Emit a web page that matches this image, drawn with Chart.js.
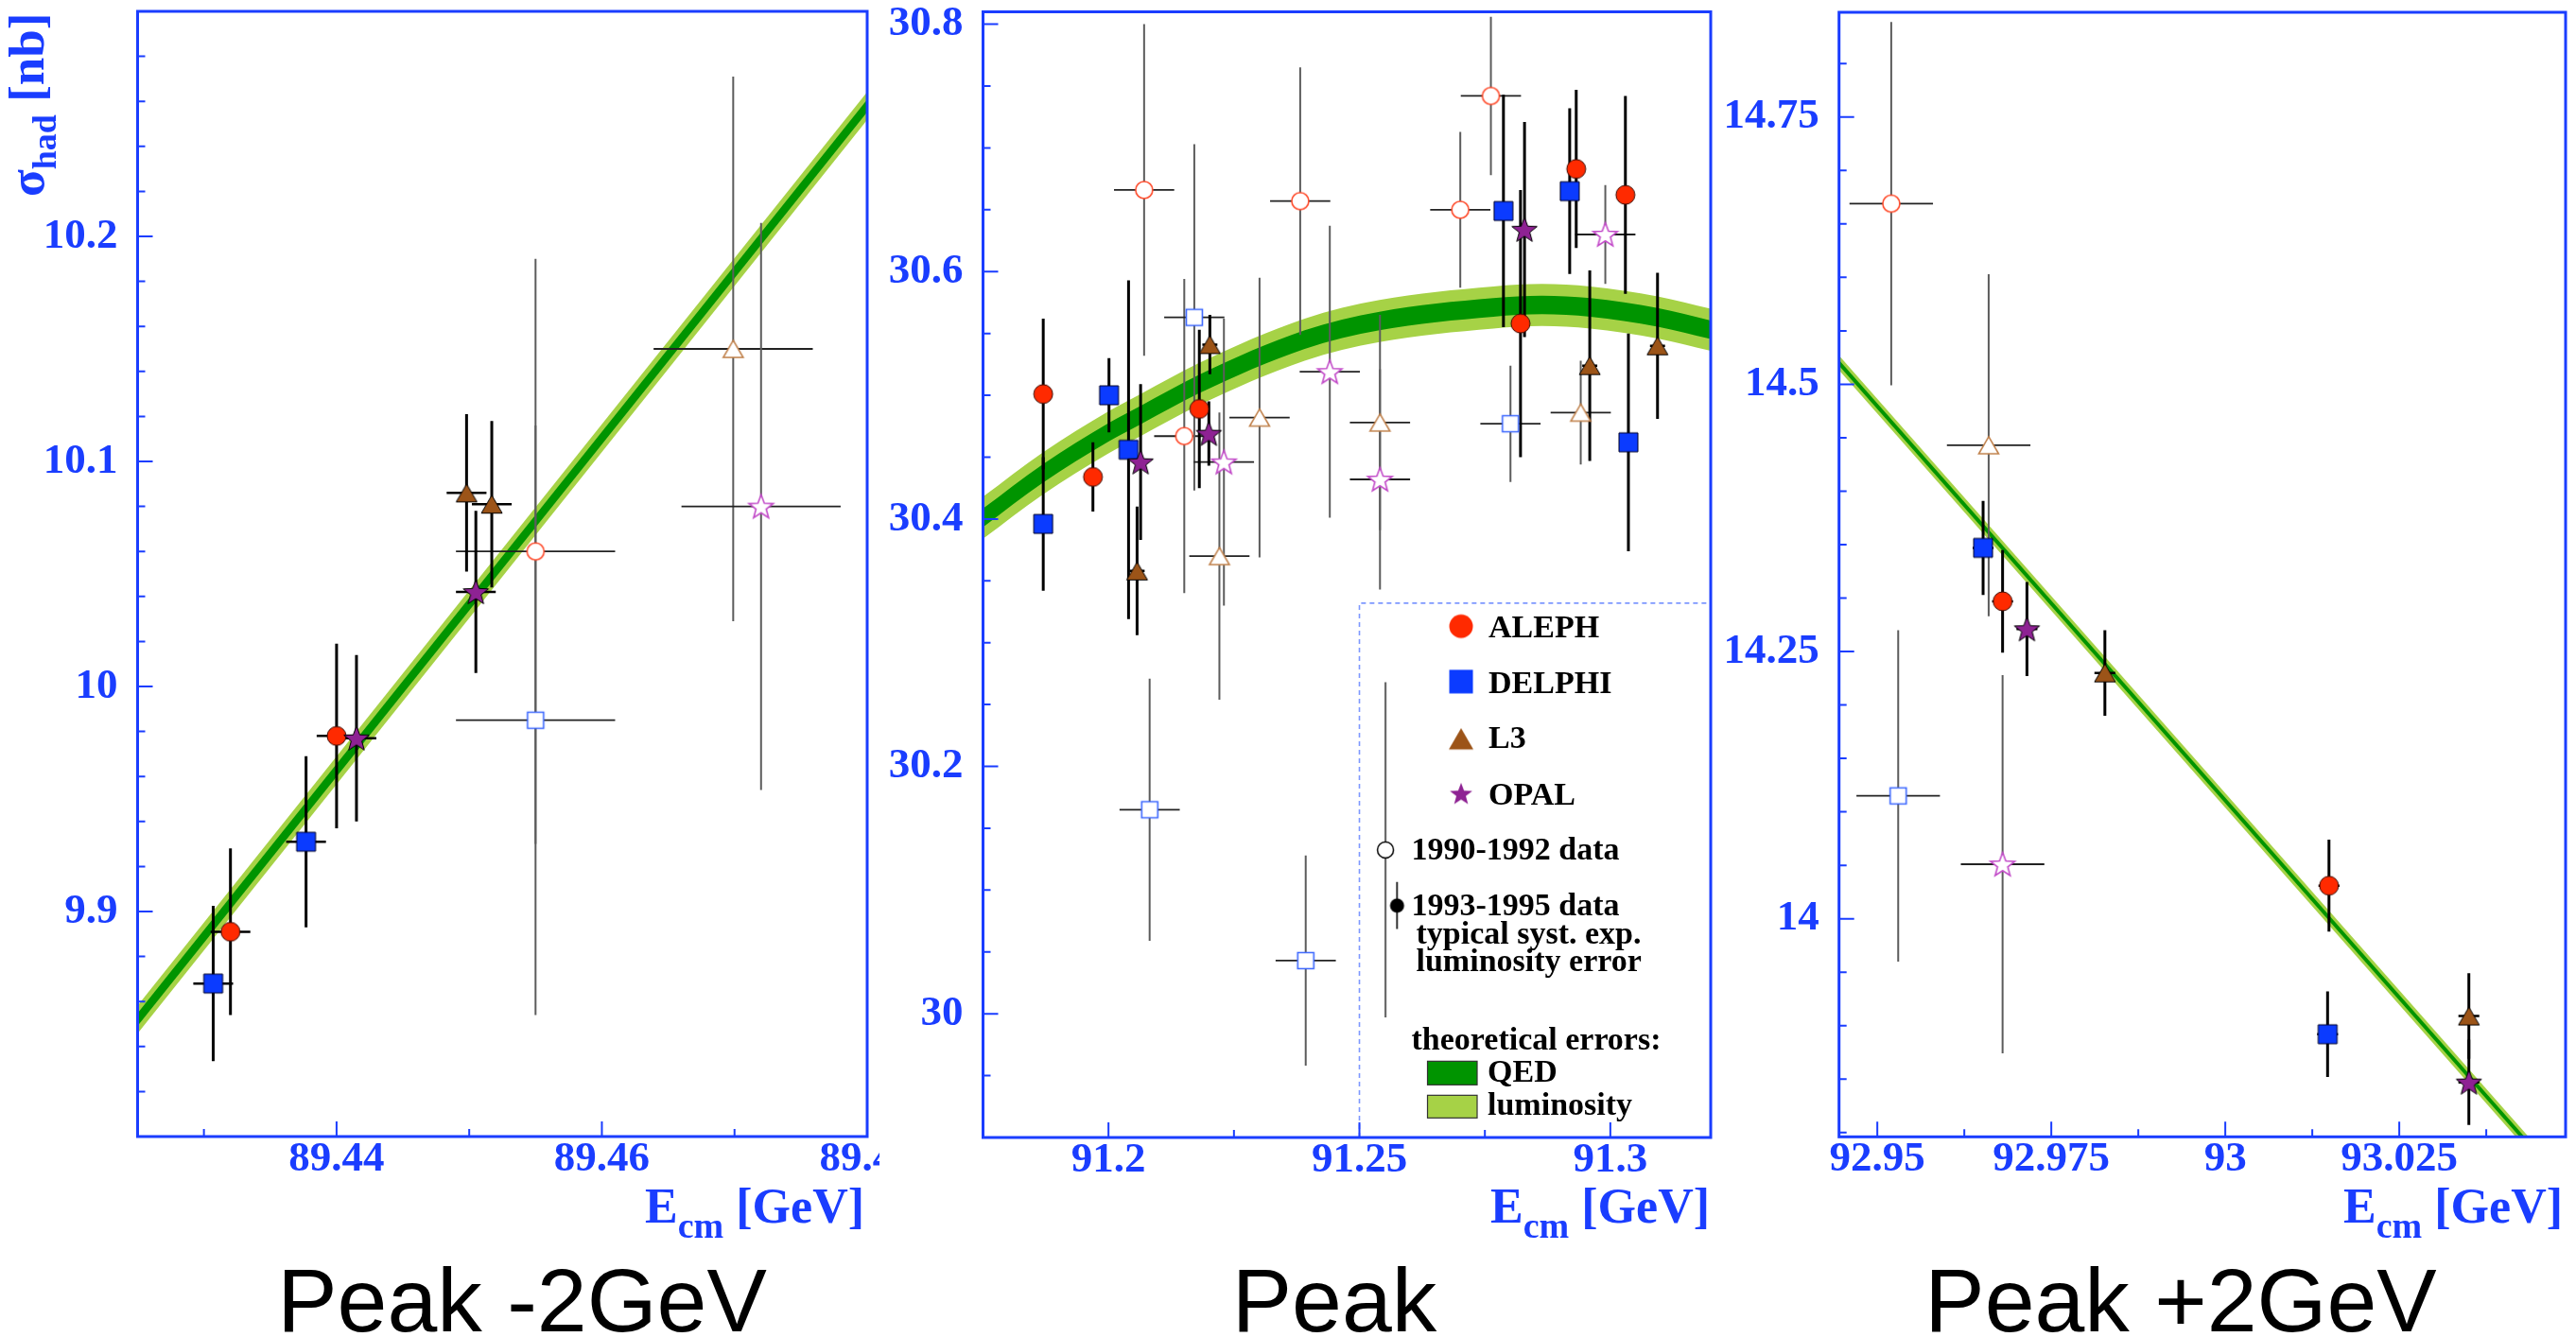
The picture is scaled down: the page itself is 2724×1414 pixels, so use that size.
<!DOCTYPE html>
<html><head><meta charset="utf-8">
<script src="https://cdn.jsdelivr.net/npm/chart.js@4.4.1/dist/chart.umd.min.js"></script>
<style>
html,body{margin:0;padding:0;background:#fff;}
#page{position:relative;width:2724px;height:1414px;overflow:hidden;background:#fff;}
canvas{position:absolute;top:0;}
.axt{position:absolute;font-family:"Liberation Serif","Times New Roman",serif;font-weight:bold;color:#1a3dff;white-space:nowrap;line-height:1;}
.cap{position:absolute;font-family:"Liberation Sans",Arial,sans-serif;font-size:95px;line-height:1;color:#000;white-space:nowrap;text-align:center;width:800px;top:1328px;}
</style></head>
<body><div id="page">
<canvas id="c1" width="930" height="1262" style="left:0px"></canvas>
<canvas id="c2" width="888" height="1262" style="left:932px"></canvas>
<canvas id="c3" width="904" height="1262" style="left:1820px"></canvas>
<div class="axt" style="left:2px;top:208px;font-size:53px;transform:rotate(-90deg);transform-origin:0 0;">σ<span style="font-size:36px;position:relative;top:13px">had</span> [nb]</div>
<div class="axt" style="right:1810px;top:1250px;font-size:52px;">E<span style="font-size:38px;position:relative;top:16px">cm</span> [GeV]</div>
<div class="axt" style="right:916px;top:1250px;font-size:52px;">E<span style="font-size:38px;position:relative;top:16px">cm</span> [GeV]</div>
<div class="axt" style="right:14px;top:1250px;font-size:52px;">E<span style="font-size:38px;position:relative;top:16px">cm</span> [GeV]</div>
<div class="cap" style="left:152px;">Peak -2GeV</div>
<div class="cap" style="left:1011px;">Peak</div>
<div class="cap" style="left:1906px;">Peak +2GeV</div>
</div>
<script>
// ================= DATA =================
// Panel 1 : Peak -2GeV
const P1_X_TICKS = [89.44, 89.46, 89.48];
const P1_X_LABELS = ['89.44', '89.46', '89.48'];
const P1_Y_TICKS = [9.9, 10, 10.1, 10.2];
const P1_Y_LABELS = ['9.9', '10', '10.1', '10.2'];
// [E_cm (GeV), sigma_had (nb), error (nb)]
const P1_ALEPH_93 = [[89.4320, 9.891, 0.037], [89.4400, 9.978, 0.041]];
const P1_DELPHI_93 = [[89.4307, 9.868, 0.0345], [89.4377, 9.931, 0.038]];
const P1_L3_93 = [[89.4498, 10.086, 0.035], [89.4517, 10.081, 0.037]];
const P1_OPAL_93 = [[89.4415, 9.977, 0.037], [89.4505, 10.042, 0.036]];
const P1_ALEPH_90 = [[89.4550, 10.060, 0.130]];
const P1_DELPHI_90 = [[89.4550, 9.985, 0.131]];
const P1_L3_90 = [[89.4699, 10.150, 0.121]];
const P1_OPAL_90 = [[89.4720, 10.080, 0.126]];
const P1_THEORY_X = [89.425, 89.48];
const P1_THEORY_Y = [9.852, 10.258];
const P1_QED_HALF = 0.0028;
const P1_LUM_HALF = 0.0062;

// Panel 2 : Peak
const P2_X_TICKS = [91.2, 91.25, 91.3];
const P2_X_LABELS = ['91.2', '91.25', '91.3'];
const P2_Y_TICKS = [30, 30.2, 30.4, 30.6, 30.8];
const P2_Y_LABELS = ['30', '30.2', '30.4', '30.6', '30.8'];
const P2_ALEPH_93 = [[91.1870, 30.501, 0.061], [91.1969, 30.434, 0.028], [91.2181, 30.489, 0.064], [91.2821, 30.558, 0.108], [91.2932, 30.683, 0.064], [91.3030, 30.662, 0.080]];
const P2_DELPHI_93 = [[91.1870, 30.396, 0.054], [91.2001, 30.500, 0.030], [91.2040, 30.456, 0.137], [91.2787, 30.649, 0.094], [91.2919, 30.665, 0.067], [91.3036, 30.462, 0.088]];
const P2_L3_93 = [[91.2057, 30.358, 0.052], [91.2202, 30.541, 0.024], [91.2959, 30.524, 0.077], [91.3094, 30.540, 0.059]];
const P2_OPAL_93 = [[91.2064, 30.446, 0.063], [91.2200, 30.469, 0.026], [91.2829, 30.634, 0.087]];
const P2_ALEPH_90 = [[91.2071, 30.666, 0.134], [91.2151, 30.467, 0.127], [91.2382, 30.657, 0.108], [91.2701, 30.650, 0.063], [91.2762, 30.742, 0.064]];
const P2_DELPHI_90 = [[91.2082, 30.165, 0.106], [91.2171, 30.563, 0.140], [91.2393, 30.043, 0.085], [91.2801, 30.477, 0.047]];
const P2_L3_90 = [[91.2221, 30.370, 0.116], [91.2301, 30.482, 0.113], [91.2541, 30.478, 0.087], [91.2941, 30.486, 0.042]];
const P2_OPAL_90 = [[91.2230, 30.446, 0.116], [91.2441, 30.519, 0.118], [91.2541, 30.432, 0.089], [91.2990, 30.630, 0.040]];
const P2_SYS_90 = [[91.2552, 30.1325, 0.1355]];
const P2_SYS_93 = [[91.2575, 30.0875, 0.019]];
const P2_THEORY_X = [91.175, 91.187, 91.200, 91.2064, 91.218, 91.2391, 91.254, 91.2767, 91.2864, 91.296, 91.3094, 91.32];
const P2_THEORY_Y = [30.401, 30.437, 30.470, 30.484, 30.509, 30.545, 30.560, 30.571, 30.573, 30.571, 30.563, 30.553];
const P2_QED_HALF = 0.0075;
const P2_LUM_HALF = 0.0170;

// Panel 3 : Peak +2GeV
const P3_X_TICKS = [92.95, 92.975, 93, 93.025];
const P3_X_LABELS = ['92.95', '92.975', '93', '93.025'];
const P3_Y_TICKS = [14, 14.25, 14.5, 14.75];
const P3_Y_LABELS = ['14', '14.25', '14.5', '14.75'];
const P3_ALEPH_93 = [[92.9680, 14.297, 0.048], [93.0149, 14.031, 0.043]];
const P3_DELPHI_93 = [[92.9652, 14.347, 0.044], [93.0147, 13.892, 0.040]];
const P3_L3_93 = [[92.9827, 14.230, 0.040], [93.0350, 13.909, 0.040]];
const P3_OPAL_93 = [[92.9715, 14.271, 0.044], [93.0350, 13.847, 0.040]];
const P3_ALEPH_90 = [[92.9520, 14.669, 0.170]];
const P3_DELPHI_90 = [[92.9530, 14.115, 0.155]];
const P3_L3_90 = [[92.9660, 14.443, 0.160]];
const P3_OPAL_90 = [[92.9680, 14.051, 0.177]];
const P3_THEORY_X = [92.9445, 93.0489];
const P3_THEORY_Y = [14.520, 13.750];
const P3_QED_HALF = 0.0026;
const P3_LUM_HALF = 0.0068;

// energy errors (GeV)
const EX_93 = 0.0015;
const EX_90 = 0.006;

// ================= STYLE =================
const SERIF = '"Liberation Serif", "Times New Roman", serif';
const AXIS_BLUE = '#1a3dff';
const COL = {
  aleph: '#ff2a00', delphi: '#0b3bff', l3: '#9c5418', opal: '#8e2293',
  alephO: '#ff4a2a', delphiO: '#3a66ff', l3O: '#c0804a', opalO: '#c24ac8',
  qed: '#009400', lum: '#a6d246'
};

function marker(shape, fill, stroke, lw, size) {
  const pad = 3;
  let S = Math.ceil(size + 2 * pad); if (S % 2) S++;
  const c = document.createElement('canvas'); c.width = S; c.height = S;
  const g = c.getContext('2d'); const cx = S / 2, cy = S / 2;
  g.beginPath();
  if (shape === 'circle') g.arc(cx, cy, size / 2, 0, 2 * Math.PI);
  else if (shape === 'square') g.rect(cx - size / 2, cy - size / 2, size, size);
  else if (shape === 'triangle') {
    const h = size * 0.86;
    g.moveTo(cx, cy - h / 2); g.lineTo(cx + size / 2, cy + h / 2); g.lineTo(cx - size / 2, cy + h / 2); g.closePath();
  } else if (shape === 'star') {
    const R = size / 2, r = R * 0.42;
    for (let i = 0; i < 10; i++) {
      const a = -Math.PI / 2 + i * Math.PI / 5, rr = (i % 2) ? r : R;
      const px = cx + rr * Math.cos(a), py = cy + R * 0.08 + rr * Math.sin(a);
      if (i === 0) g.moveTo(px, py); else g.lineTo(px, py);
    }
    g.closePath();
  }
  if (fill) { g.fillStyle = fill; g.fill(); }
  if (stroke) { g.lineWidth = lw; g.strokeStyle = stroke; g.lineJoin = 'miter'; g.stroke(); }
  return c;
}

const MK = {
  aleph: marker('circle', COL.aleph, '#3a0a00', 1, 20),
  delphi: marker('square', COL.delphi, '#000022', 1, 20),
  l3: marker('triangle', COL.l3, '#000', 1, 22),
  opal: marker('star', COL.opal, '#000', 1, 28),
  alephO: marker('circle', '#fff', COL.alephO, 1.6, 18),
  delphiO: marker('square', '#fff', COL.delphiO, 1.6, 17),
  l3O: marker('triangle', '#fff', COL.l3O, 1.6, 21),
  opalO: marker('star', '#fff', COL.opalO, 1.6, 27),
  sysO: marker('circle', '#fff', '#000', 1.5, 17),
  sysF: marker('circle', '#000', null, 0, 15),
  legA: marker('circle', COL.aleph, null, 0, 25),
  legD: marker('square', COL.delphi, null, 0, 25),
  legL: marker('triangle', COL.l3, null, 0, 26),
  legO: marker('star', COL.opal, null, 0, 25)
};

const ERR = {
  filled: { vc: '#000', vw: 3, hc: '#000', hw: 2.5 },
  open: { vc: '#5c5c5c', vw: 2, hc: '#222', hw: 1.8 },
  sysO: { vc: '#6a6a6a', vw: 2.2, hc: '#000', hw: 0 },
  sysF: { vc: '#333', vw: 2, hc: '#000', hw: 0 }
};

// ================= PLUGINS =================
const errPlugin = {
  id: 'errbars',
  beforeDatasetsDraw(chart) { chart.$errDone = false; },
  beforeDatasetDraw(chart, args) {
    if (chart.$errDone) return;
    const ds0 = chart.data.datasets[args.index];
    if (!ds0.errStyle) return;
    chart.$errDone = true;
    const { ctx, chartArea: a, scales: { x, y } } = chart;
    ctx.save();
    ctx.beginPath(); ctx.rect(a.left, a.top, a.right - a.left, a.bottom - a.top); ctx.clip();
    ctx.lineCap = 'butt';
    const sets = chart.data.datasets.filter(d => d.errStyle);
    for (let k = sets.length - 1; k >= 0; k--) {
      const d = sets[k], st = ERR[d.errStyle];
      d.data.forEach(p => {
        const px = x.getPixelForValue(p.x), py = y.getPixelForValue(p.y);
        if (st.vw > 0 && p.ey) {
          ctx.strokeStyle = st.vc; ctx.lineWidth = st.vw;
          ctx.beginPath();
          ctx.moveTo(px, y.getPixelForValue(p.y - p.ey));
          ctx.lineTo(px, y.getPixelForValue(p.y + p.ey));
          ctx.stroke();
        }
        if (st.hw > 0 && p.ex) {
          ctx.strokeStyle = st.hc; ctx.lineWidth = st.hw;
          ctx.beginPath();
          ctx.moveTo(x.getPixelForValue(p.x - p.ex), py);
          ctx.lineTo(x.getPixelForValue(p.x + p.ex), py);
          ctx.stroke();
        }
      });
    }
    ctx.restore();
  }
};

const framePlugin = {
  id: 'frame',
  afterDraw(chart, args, opts) {
    const { ctx, chartArea: a, scales: { x, y } } = chart;
    ctx.save();
    ctx.strokeStyle = AXIS_BLUE;
    ctx.lineWidth = 2;
    const eachTick = (sc, minor, major, fn) => {
      const i0 = Math.ceil(sc.min / minor - 1e-6), i1 = Math.floor(sc.max / minor + 1e-6);
      for (let i = i0; i <= i1; i++) {
        const v = i * minor, q = v / major;
        fn(sc.getPixelForValue(v), Math.abs(q - Math.round(q)) < 1e-6);
      }
    };
    ctx.beginPath();
    eachTick(x, opts.xMinor, opts.xMajor, (p, M) => { ctx.moveTo(p, a.bottom); ctx.lineTo(p, a.bottom - (M ? 16 : 8)); });
    eachTick(y, opts.yMinor, opts.yMajor, (p, M) => { ctx.moveTo(a.left, p); ctx.lineTo(a.left + (M ? 16 : 8), p); });
    ctx.stroke();
    ctx.lineWidth = 3;
    ctx.strokeRect(a.left, a.top, a.right - a.left, a.bottom - a.top);
    ctx.restore();
  }
};

const LEGEND_BOX_X = 91.25;   // GeV, left edge of legend box
const LEGEND_BOX_Y = 30.332;  // nb, top edge of legend box
const legendPlugin = {
  id: 'zlegend',
  afterDatasetsDraw(chart) {
    const { ctx, chartArea: a, scales: { x, y } } = chart;
    const L = x.getPixelForValue(LEGEND_BOX_X), T = y.getPixelForValue(LEGEND_BOX_Y);
    ctx.save();
    ctx.setLineDash([5, 4]); ctx.strokeStyle = '#7d98ff'; ctx.lineWidth = 1.6;
    ctx.beginPath(); ctx.moveTo(L, a.bottom); ctx.lineTo(L, T); ctx.lineTo(a.right, T); ctx.stroke();
    ctx.setLineDash([]);
    const put = (img, cx, cy) => ctx.drawImage(img, cx - img.width / 2, cy - img.height / 2);
    put(MK.legA, L + 107.5, T + 24.5);
    put(MK.legD, L + 107.5, T + 83);
    put(MK.legL, L + 107.5, T + 143.5);
    put(MK.legO, L + 107.5, T + 201.5);
    ctx.fillStyle = '#000';
    ctx.textBaseline = 'alphabetic'; ctx.textAlign = 'left';
    ctx.font = 'bold 34px ' + SERIF;
    ctx.fillText('ALEPH', L + 136.5, T + 36);
    ctx.fillText('DELPHI', L + 136.5, T + 95.5);
    ctx.fillText('L3', L + 136.5, T + 153.5);
    ctx.fillText('OPAL', L + 136.5, T + 213.5);
    ctx.fillText('1990-1992 data', L + 55, T + 271.5);
    ctx.fillText('1993-1995 data', L + 55, T + 330.5);
    ctx.fillText('typical syst. exp.', L + 60, T + 360);
    ctx.fillText('luminosity error', L + 60, T + 389.5);
    ctx.fillText('theoretical errors:', L + 55, T + 472.5);
    ctx.fillText('QED', L + 135.5, T + 506.5);
    ctx.fillText('luminosity', L + 135.5, T + 541.5);
    ctx.lineWidth = 1.2; ctx.strokeStyle = '#333';
    ctx.fillStyle = COL.qed; ctx.fillRect(L + 72, T + 484.5, 52.5, 25); ctx.strokeRect(L + 72, T + 484.5, 52.5, 25);
    ctx.fillStyle = COL.lum; ctx.fillRect(L + 72, T + 520.5, 52.5, 24); ctx.strokeRect(L + 72, T + 520.5, 52.5, 24);
    ctx.restore();
  }
};

// ================= BUILDERS =================
function axis(min, max, ticks, labels, size, isX, pad) {
  return {
    type: 'linear', min, max, position: isX ? 'bottom' : 'left',
    grid: { display: false, drawTicks: false }, border: { display: false },
    ticks: {
      color: AXIS_BLUE, font: { family: SERIF, size: 45, weight: 'bold', lineHeight: 1 },
      padding: pad, autoSkip: false, maxRotation: 0, minRotation: 0,
      callback: (v) => { const i = ticks.findIndex(t => Math.abs(t - v) < 1e-9); return i >= 0 ? labels[i] : ''; }
    },
    afterBuildTicks: (s) => { s.ticks = ticks.map(v => ({ value: v })); },
    afterFit: (s) => {
      if (isX) { s.height = size; s.paddingLeft = 0; s.paddingRight = 0; }
      else { s.width = size; s.paddingTop = 0; s.paddingBottom = 0; }
    }
  };
}

function bandSets(tx, ty, qed, lum, smooth) {
  const mk = (h) => tx.map((xv, i) => ({ x: xv, y: ty[i] + h }));
  const base = { type: 'line', showLine: true, pointRadius: 0, borderWidth: 0, borderColor: 'rgba(0,0,0,0)',
    tension: 0, cubicInterpolationMode: smooth ? 'monotone' : 'default' };
  return [
    Object.assign({}, base, { label: 'lum+', data: mk(lum), fill: false, order: 10 }),
    Object.assign({}, base, { label: 'lum-', data: mk(-lum), fill: 0, backgroundColor: COL.lum, order: 9 }),
    Object.assign({}, base, { label: 'qed+', data: mk(qed), fill: false, order: 8 }),
    Object.assign({}, base, { label: 'qed-', data: mk(-qed), fill: 2, backgroundColor: COL.qed, order: 7 })
  ];
}

function pointSets(list) {
  return list.map(s => ({
    type: 'scatter', label: s.label,
    data: s.data.map(([xv, yv, e]) => ({ x: xv, y: yv, ey: e, ex: s.ex })),
    pointStyle: MK[s.mk], pointRadius: 10, showLine: false, order: 0, errStyle: s.err
  }));
}

function series(a93, d93, l93, o93, a90, d90, l90, o90) {
  return [
    { label: 'OPAL 1993-1995', data: o93, mk: 'opal', err: 'filled', ex: EX_93 },
    { label: 'L3 1993-1995', data: l93, mk: 'l3', err: 'filled', ex: EX_93 },
    { label: 'DELPHI 1993-1995', data: d93, mk: 'delphi', err: 'filled', ex: EX_93 },
    { label: 'ALEPH 1993-1995', data: a93, mk: 'aleph', err: 'filled', ex: EX_93 },
    { label: 'OPAL 1990-1992', data: o90, mk: 'opalO', err: 'open', ex: EX_90 },
    { label: 'L3 1990-1992', data: l90, mk: 'l3O', err: 'open', ex: EX_90 },
    { label: 'DELPHI 1990-1992', data: d90, mk: 'delphiO', err: 'open', ex: EX_90 },
    { label: 'ALEPH 1990-1992', data: a90, mk: 'alephO', err: 'open', ex: EX_90 }
  ];
}

function build(id, cfg) {
  return new Chart(document.getElementById(id), {
    type: 'scatter',
    data: { datasets: bandSets(cfg.tx, cfg.ty, cfg.qed, cfg.lum, cfg.smooth).concat(pointSets(cfg.series)) },
    options: {
      responsive: false, animation: false, events: [], devicePixelRatio: 1,
      layout: { padding: cfg.padding },
      scales: {
        x: axis(cfg.xmin, cfg.xmax, cfg.xt, cfg.xl, cfg.xh, true, 2),
        y: axis(cfg.ymin, cfg.ymax, cfg.yt, cfg.yl, cfg.yw, false, 21)
      },
      plugins: {
        legend: { display: false }, tooltip: { enabled: false },
        frame: cfg.frame
      }
    },
    plugins: [errPlugin, framePlugin].concat(cfg.extra || [])
  });
}

build('c1', {
  tx: P1_THEORY_X, ty: P1_THEORY_Y, qed: P1_QED_HALF, lum: P1_LUM_HALF, smooth: false,
  series: series(P1_ALEPH_93, P1_DELPHI_93, P1_L3_93, P1_OPAL_93, P1_ALEPH_90, P1_DELPHI_90, P1_L3_90, P1_OPAL_90),
  xmin: 89.425, xmax: 89.48, ymin: 9.8, ymax: 10.3,
  xt: P1_X_TICKS, xl: P1_X_LABELS, yt: P1_Y_TICKS, yl: P1_Y_LABELS,
  xh: 60, yw: 145.5, padding: { left: 0, right: 13, top: 12, bottom: 0 },
  frame: { xMinor: 0.01, xMajor: 0.02, yMinor: 0.02, yMajor: 0.1 }
});

const sys = [
  { label: 'typical 1990-1992', data: P2_SYS_90, mk: 'sysO', err: 'sysO', ex: 0 },
  { label: 'typical 1993-1995', data: P2_SYS_93, mk: 'sysF', err: 'sysF', ex: 0 }
];
build('c2', {
  tx: P2_THEORY_X, ty: P2_THEORY_Y, qed: P2_QED_HALF, lum: P2_LUM_HALF, smooth: true,
  series: sys.concat(series(P2_ALEPH_93, P2_DELPHI_93, P2_L3_93, P2_OPAL_93, P2_ALEPH_90, P2_DELPHI_90, P2_L3_90, P2_OPAL_90)),
  xmin: 91.175, xmax: 91.32, ymin: 29.9, ymax: 30.81,
  xt: P2_X_TICKS, xl: P2_X_LABELS, yt: P2_Y_TICKS, yl: P2_Y_LABELS,
  xh: 59, yw: 107.5, padding: { left: 0, right: 9.5, top: 12.5, bottom: 0 },
  frame: { xMinor: 0.025, xMajor: 0.05, yMinor: 0.05, yMajor: 0.2 },
  extra: [legendPlugin]
});

build('c3', {
  tx: P3_THEORY_X, ty: P3_THEORY_Y, qed: P3_QED_HALF, lum: P3_LUM_HALF, smooth: false,
  series: series(P3_ALEPH_93, P3_DELPHI_93, P3_L3_93, P3_OPAL_93, P3_ALEPH_90, P3_DELPHI_90, P3_L3_90, P3_OPAL_90),
  xmin: 92.9445, xmax: 93.0489, ymin: 13.796, ymax: 14.848,
  xt: P3_X_TICKS, xl: P3_X_LABELS, yt: P3_Y_TICKS, yl: P3_Y_LABELS,
  xh: 59.7, yw: 124.7, padding: { left: 0, right: 10.7, top: 13, bottom: 0 },
  frame: { xMinor: 0.0125, xMajor: 0.025, yMinor: 0.05, yMajor: 0.25 }
});
</script>
</body></html>
